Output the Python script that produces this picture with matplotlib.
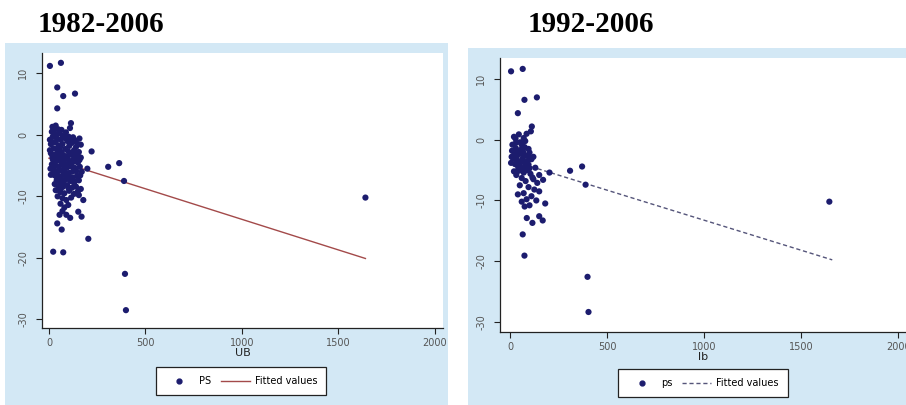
import matplotlib
matplotlib.use("Agg")
import matplotlib.pyplot as plt
from matplotlib.patches import Rectangle
from matplotlib.lines import Line2D

# ---------------- data ----------------
left_title = "1982-2006"
right_title = "1992-2006"
left_xlabel = "UB"
right_xlabel = "lb"
left_legend = ["PS", "Fitted values"]
right_legend = ["ps", "Fitted values"]
x_ticks = [0, 500, 1000, 1500, 2000]
x_ticklabels = ["0", "500", "1000", "1500", "2000"]
y_ticks = [10, 0, -10, -20, -30]
y_ticklabels = ["10", "0", "-10", "-20", "-30"]

left_pts = [
    (5, 11.2), (62, 11.7), (43, 7.7), (74, 6.3), (135, 6.7), (43, 4.3), (114, 1.9), (109, 1.1),
    (221, -2.7), (199, -5.5), (307, -5.2), (364, -4.6), (389, -7.5), (178, -10.6), (169, -13.3),
    (204, -16.9), (152, -12.5), (43, -14.4), (66, -15.4), (22, -19), (74, -19.1), (394, -22.6),
    (399, -28.5), (1640, -10.2),
    (15, 0.5), (25, 0.8), (30, 0.2), (20, -0.3), (40, -0.5), (55, 0.3), (60, -0.8), (80, -0.5),
    (95, -1), (35, -1.2), (10, -1.5), (50, -1.8), (70, -1.5), (105, -1.8), (120, -1.3), (150, -1.5),
    (165, -1.6), (25, -2.2), (45, -2.5), (65, -2.8), (85, -2.3), (100, -2.7), (130, -2.5), (155, -2.8),
    (10, -3), (30, -3.2), (55, -3.5), (75, -3.3), (90, -3.6), (115, -3.2), (140, -3.5), (165, -3.7),
    (20, -4), (40, -4.2), (60, -4.3), (80, -4), (105, -4.4), (125, -4.1), (150, -4.5), (15, -4.8),
    (35, -5), (50, -5.2), (70, -4.9), (95, -5.3), (115, -5.1), (135, -5.4), (160, -5.2), (25, -5.7),
    (45, -6), (65, -5.8), (85, -6.1), (105, -6.2), (125, -5.9), (170, -6), (10, -6.5), (30, -6.6),
    (55, -6.8), (75, -6.4), (95, -6.9), (145, -6.7), (40, -7.4), (60, -7.6), (85, -7.3), (110, -7.5),
    (130, -7.8), (155, -7.4), (50, -8.3), (70, -8.5), (95, -8.2), (120, -8.6), (140, -8.4), (165, -8.8),
    (35, -9), (60, -9.3), (80, -9.5), (105, -9.1), (130, -9.6), (155, -9.8), (45, -10), (70, -10.3),
    (90, -10.6), (115, -10.2), (60, -11.2), (80, -11.8), (100, -11.4), (70, -12.4), (90, -13),
    (110, -13.5), (55, -13), (5, -0.8), (65, 0.8), (110, -0.6), (135, -0.9), (140, -2), (20, -1.2),
    (5, -2.5), (18, -3.6), (28, -4.5), (38, -3.8), (48, -3), (58, -2), (68, -3.9), (78, -4.6),
    (88, -5), (98, -3.9), (108, -3), (118, -4.7), (128, -3.4), (138, -4.3), (148, -3.1), (158, -4.1),
    (8, -5.5), (22, -6.2), (42, -6.9), (62, -7), (82, -5.5), (102, -7), (122, -6.9), (142, -5.9),
    (162, -6.6), (30, -8), (52, -9), (75, -7.9), (100, -8.6), (125, -7.3), (150, -9.2), (38, -0.2),
    (72, -0.2), (88, 0.4), (48, 0.9), (102, -0.3), (125, -0.4), (158, -0.6), (18, 1.3), (35, 1.5),
]
left_fit_x = [0, 1640]
left_fit_y = [-3.8, -20.1]

right_pts = [
    (5, 11.3), (65, 11.7), (74, 6.6), (138, 7), (40, 4.4), (112, 2.2), (107, 1.4), (203, -5.4),
    (309, -5.1), (371, -4.4), (389, -7.4), (181, -10.5), (150, -12.6), (168, -13.3), (115, -13.7),
    (86, -12.9), (65, -15.6), (74, -19.1), (399, -22.6), (404, -28.4), (1645, -10.2),
    (20, 0.5), (45, 0.9), (70, 0.3), (85, 1), (30, -0.5), (60, -0.8), (75, -1.2), (95, -1.5),
    (10, -1.8), (40, -2.0), (55, -2.3), (80, -2.6), (100, -2.1), (120, -2.8), (15, -3), (35, -3.3),
    (65, -3.1), (90, -3.5), (110, -3.2), (5, -3.8), (25, -4), (50, -4.2), (75, -4.5), (95, -4.1),
    (130, -4.6), (45, -5.1), (70, -5.4), (85, -5), (105, -5.6), (150, -5.8), (60, -6.3), (80, -6.8),
    (120, -6.5), (140, -7.1), (170, -6.6), (50, -7.5), (95, -7.8), (125, -8.2), (150, -8.5), (70, -8.8),
    (110, -9.3), (40, -9), (85, -9.8), (60, -10.2), (135, -10), (75, -11), (100, -10.8), (115, -6.2),
    (35, -2.7), (60, -1.5), (100, -4.7), (20, -5.2),
    (12, -0.8), (28, 0.2), (52, -0.4), (78, -0.2), (8, -2.8), (30, -1.4), (48, -3.6), (68, -2),
    (88, -4), (58, -4.8), (22, -2.4), (42, -4.6), (78, -3.8), (98, -2.9), (32, -5.8), (62, -3.6),
]
right_fit_x = [5, 1660]
right_fit_y = [-3.4, -19.8]

# ---------------- style ----------------
W, H = 906, 405
BLUE = "#d3e8f5"
NAVY = "#1c1c6e"
RED = "#a34a4a"
DASH = "#55557a"
TICKC = "#555555"

fig = plt.figure(figsize=(W / 100, H / 100), dpi=100)
fig.patch.set_facecolor("white")

def px_rect(x0, y0, x1, y1):
    return Rectangle((x0 / W, 1 - y1 / H), (x1 - x0) / W, (y1 - y0) / H,
                     transform=fig.transFigure, facecolor=BLUE, edgecolor="none", zorder=-10)

fig.patches.append(px_rect(5, 43, 448, 405))
fig.patches.append(px_rect(468, 48, 906, 405))

def make_axes(x0, y0, x1, y1):
    return fig.add_axes([x0 / W, 1 - y1 / H, (x1 - x0) / W, (y1 - y0) / H])

axL = make_axes(42, 53, 443, 328)
axR = make_axes(500, 58, 906, 332)

def style(ax, xlim, ylim, xlabel):
    ax.set_facecolor("white")
    ax.set_xlim(*xlim)
    ax.set_ylim(*ylim)
    for s in ("top", "right"):
        ax.spines[s].set_visible(False)
    for s in ("left", "bottom"):
        ax.spines[s].set_color("#222222")
        ax.spines[s].set_linewidth(0.9)
    ax.set_xticks(x_ticks)
    ax.set_xticklabels(x_ticklabels, fontsize=7, color=TICKC)
    ax.set_yticks(y_ticks)
    ax.set_yticklabels(y_ticklabels, fontsize=7, color=TICKC, rotation=90, va="center")
    ax.tick_params(axis="both", length=4, width=0.8, color="#222222", pad=3)
    ax.tick_params(axis="y", pad=6)
    ax.set_xlabel(xlabel, fontsize=8, color="#222222", labelpad=0)

style(axL, (-36, 2042), (-31.4, 13.3), left_xlabel)
style(axR, (-52, 2040), (-31.7, 13.5), right_xlabel)

lx = [p[0] for p in left_pts]
ly = [p[1] for p in left_pts]
rx = [p[0] for p in right_pts]
ry = [p[1] for p in right_pts]

axL.plot(left_fit_x, left_fit_y, color=RED, lw=1.0, zorder=2)
axL.scatter(lx, ly, s=20, color=NAVY, edgecolors="none", zorder=3, clip_on=False)

axR.plot(right_fit_x, right_fit_y, color=DASH, lw=1.0, ls=(0, (3, 2)), zorder=2)
axR.scatter(rx, ry, s=20, color=NAVY, edgecolors="none", zorder=3, clip_on=False)

# titles
fig.text(38 / W, 1 - 24 / H, left_title, fontsize=21, fontweight="bold",
         family="Liberation Serif", va="center", ha="left")
fig.text(528 / W, 1 - 24 / H, right_title, fontsize=21, fontweight="bold",
         family="Liberation Serif", va="center", ha="left")

# legends
def legend(cx, cy, labels, lcolor, ls):
    handles = [
        Line2D([], [], marker="o", ls="none", color=NAVY, markersize=3.5),
        Line2D([], [], color=lcolor, lw=1.0, ls=ls),
    ]
    leg = fig.legend(handles, labels, loc="center", bbox_to_anchor=(cx / W, 1 - cy / H),
                     ncol=2, fontsize=7, frameon=True, fancybox=False, handlelength=3.0,
                     columnspacing=1.0, handletextpad=0.5, borderpad=0.9, borderaxespad=0)
    fr = leg.get_frame()
    fr.set_edgecolor("#222222")
    fr.set_linewidth(0.9)
    fr.set_facecolor("white")
    fr.set_alpha(1)
    return leg

legend(241, 381, left_legend, RED, "-")
legend(703, 383, right_legend, DASH, (0, (3, 2)))

fig.savefig("out.png", dpi=100, facecolor="white")
